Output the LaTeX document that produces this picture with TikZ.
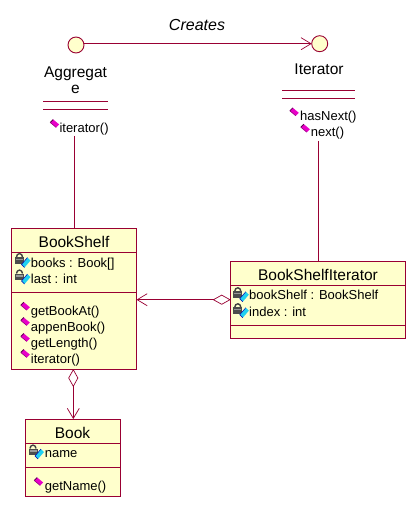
\documentclass[tikz,border=0pt]{standalone}
\usepackage{fontspec}
\setmainfont{Liberation Sans}
\usetikzlibrary{arrows.meta}
\definecolor{umlline}{HTML}{990033}
\definecolor{umlfill}{HTML}{FFFFCC}
\definecolor{mag}{HTML}{E800C8}
\definecolor{cy}{HTML}{20D0F0}
\tikzset{
  classbox/.style={draw=umlline,fill=umlfill,line width=0.9pt,inner sep=0pt,outer sep=0pt,anchor=north west},
  interfacecircle/.style={circle,draw=umlline,fill=umlfill,line width=0.9pt,inner sep=0pt,outer sep=0pt,minimum size=16pt},
  rulebar/.style={draw=umlline,line width=0.9pt},
  conn/.style={draw=umlline,line width=0.8pt},
  openhead/.style={-{Straight Barb[length=10pt,width=12pt,line width=0.7pt]}},
  diamondtail/.style={{Diamond[open,length=18pt,width=10pt,line width=0.7pt]}-{Straight Barb[length=10pt,width=12pt,line width=0.7pt]}},
  titletxt/.style={font=\fontsize{15.5}{18}\selectfont,anchor=base,inner sep=0pt},
  membertxt/.style={font=\fontsize{13}{15}\selectfont,anchor=base west,inner sep=0pt},
  creates/.style={font=\fontsize{16}{18}\itshape\selectfont,anchor=base,inner sep=0pt},
  methodicon/.pic={
    \fill[mag] (-1.5,-4.5)--(4.5,0.5)--(1.5,3.5)--(-4.5,-1.5)--cycle;
    \draw[black!60!mag,line width=0.8pt] (-4.5,-1.5)--(-1.5,-4.5);
    \draw[black!35!mag,line width=0.6pt] (-4.5,-1.5)--(1.5,3.5);
  },
  attricon/.pic={
    \draw[black!75,line width=1.4pt] (-9.5,-5.5) arc[start angle=180,end angle=360,x radius=3,y radius=3.4];
    \fill[black!70] (-11,-5.5) rectangle (-2,1);
    \fill[black!40] (-10,-3.8) rectangle (-3,-2.4);
    \fill[cy] (1.5,-5)--(4.5,-2)--(-1.5,5)--(-4.5,2)--cycle;
    \draw[blue!70!black,line width=0.5pt] (1.5,-5)--(-4.5,2)--(-1.5,5);
  }
}
\begin{document}
\begin{tikzpicture}[x=1pt,y=-1pt]
\useasboundingbox (0,0) rectangle (417,521);
\fill[white] (0,0) rectangle (417,521);

% interface Aggregate
\node[interfacecircle] (aggc) at (76,45) {};
\node[titletxt] (aggt1) at (75.5,77.5) {Aggregat};
\node[titletxt] (aggt2) at (75.5,94) {e};
\coordinate (agga) at (43,101.5); \coordinate (aggb) at (107.5,101.5);
\coordinate (aggd) at (43,109.5); \coordinate (agge) at (107.5,109.5);
\draw[rulebar] (agga)--(aggb) (aggd)--(agge);
\pic at (54.7,124) {methodicon};
\node[membertxt] (aggm1) at (59.3,133) {iterator()};

% interface Iterator
\node[interfacecircle] (itc) at (319.7,43.7) {};
\node[titletxt] (itt) at (319,75) {Iterator};
\coordinate (ita) at (282,90.5); \coordinate (itb) at (354.7,90.5);
\coordinate (itd) at (282,98.5); \coordinate (ite) at (354.7,98.5);
\draw[rulebar] (ita)--(itb) (itd)--(ite);
\pic at (294.3,112.3) {methodicon};
\node[membertxt] (itm1) at (300,120.7) {hasNext()};
\pic at (305.3,128.7) {methodicon};
\node[membertxt] (itm2) at (310.7,137) {next()};

% BookShelf
\node[classbox,minimum width=125pt,minimum height=141pt] (bs) at (11.5,228) {};
\draw[rulebar] (11.5,252)--(136.5,252) (11.5,292)--(136.5,292);
\node[titletxt] (bst) at (74,247.5) {BookShelf};
\pic at (26,262.5) {attricon};
\node[membertxt] (bsa1) at (30.7,267.7) {books : Book[]};
\pic at (26,279) {attricon};
\node[membertxt] (bsa2) at (30.7,283.5) {last : int};
\pic at (25.3,306.7) {methodicon};
\node[membertxt] (bsm1) at (30.7,315) {getBookAt()};
\pic at (25.3,322) {methodicon};
\node[membertxt] (bsm2) at (30.7,331) {appenBook()};
\pic at (25.3,338) {methodicon};
\node[membertxt] (bsm3) at (30.7,347) {getLength()};
\pic at (25.3,354) {methodicon};
\node[membertxt] (bsm4) at (30.7,363) {iterator()};

% BookShelfIterator
\node[classbox,minimum width=175pt,minimum height=76.5pt] (bsi) at (230.7,261.7) {};
\draw[rulebar] (230.7,285)--(405.7,285) (230.7,325)--(405.7,325);
\node[titletxt] (bsit) at (318,280) {BookShelfIterator};
\pic at (244.3,296.7) {attricon};
\node[membertxt] (bsia1) at (249,299.5) {bookShelf : BookShelf};
\pic at (244.3,312.7) {attricon};
\node[membertxt] (bsia2) at (249,316) {index : int};

% Book
\node[classbox,minimum width=95pt,minimum height=77pt] (bk) at (25,419) {};
\draw[rulebar] (25,443.7)--(120,443.7) (25,467)--(120,467);
\node[titletxt] (bkt) at (72.5,438) {Book};
\pic at (39.5,454) {attricon};
\node[membertxt] (bka1) at (44.7,457.7) {name};
\pic at (38.7,482) {methodicon};
\node[membertxt] (bkm1) at (44.7,490) {getName()};

% connectors
\node[creates] (cr) at (197,31) {Creates};
\draw[conn,openhead] (aggc.east |- itc) -- (itc.west);
\coordinate (aggfoot) at (74,136);
\draw[conn] (aggfoot) -- (aggfoot |- bs.north);
\coordinate (itfoot) at (318,141);
\draw[conn] (itfoot) -- (itfoot |- bsi.north);
\coordinate (bsidock) at (bsi.west |- 0,299.7);
\draw[conn,diamondtail] (bsidock) -- (bsidock -| bs.east);
\coordinate (bsdock) at (73.3,369);
\draw[conn,diamondtail] (bsdock) -- (bsdock |- bk.north);
\end{tikzpicture}
\end{document}
